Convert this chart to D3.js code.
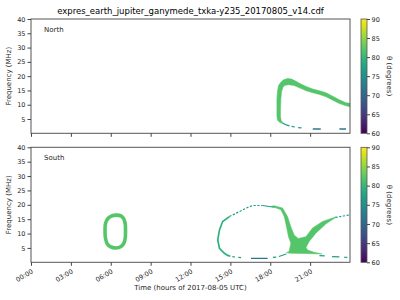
<!DOCTYPE html>
<html><head><meta charset="utf-8">
<script src="https://cdn.jsdelivr.net/npm/d3@7"></script>
<style>body{margin:0;background:#fff} svg{display:block;font-family:"DejaVu Sans",sans-serif}</style>
</head><body><svg id="c" width="400" height="300"></svg>
<script>
// ---- data ----
const titleText = "expres_earth_jupiter_ganymede_txka-y235_20170805_v14.cdf";
const tickHours = [0,3,6,9,12,15,18,21];
const freqTicks = [5,10,15,20,25,30,35,40];
const thetaTicks = [60,65,70,75,80,85,90];
// theta values (degrees) of the features
const thetaBand = 82, thetaThin = 76.5, thetaDark = 72;
// North: filled band (hours, MHz) outline
const northBand = [[18.95,3.3],[18.7,3.85],[18.55,4.6],[18.5,5.8],[18.5,12.0],[18.55,15.0],[18.63,16.8],[18.8,17.9],[19.0,18.7],[19.3,19.2],[19.6,19.0],[19.9,18.3],[20.2,17.5],[20.7,16.4],[21.2,15.5],[21.7,14.9],[22.2,14.2],[22.7,13.0],[23.2,11.7],[23.7,10.7],[24,10.5],
  [24,9.3],[23.7,9.6],[23.2,10.4],[22.7,11.6],[22.2,12.8],[21.7,13.6],[21.2,14.2],[20.7,14.9],[20.2,15.9],[19.8,16.7],[19.4,17.0],[19.1,16.8],[18.95,16.0],[18.85,14.5],[18.8,12.0],[18.77,8.0],[18.77,6.0],[18.82,4.5],[18.95,3.8]];
const northThin = [[[18.95,3.5],[19.2,2.95],[19.45,2.6]],[[19.6,2.4],[19.85,2.2]],[[20.1,2.0],[20.35,1.9]]];
const northDark = [[[21.2,1.5],[21.8,1.5]],[[23.2,1.5],[23.7,1.5]]];
// South
const southOval = [[6.45,16.4],[6.79,16.05],[6.98,15.11],[7.09,13.37],[7.11,10.93],[7.09,8.45],[6.98,6.56],[6.75,5.41],[6.38,4.99],[6.0,5.34],[5.74,6.39],[5.6,8.45],[5.57,10.93],[5.6,13.37],[5.74,14.94],[6.04,16.05]];
const southV = [[18.08,19.5],[18.8,18.3],[19.05,15.9],[19.22,12.4],[19.37,8.9],[19.55,6.6],[19.45,4.5],[19.4,3.7],[19.2,3.3],[19.5,3.15],[20.5,3.05],[21.9,2.9],[21.3,3.5],[20.8,4.3],[20.7,5.2],[20.93,7.2],[21.43,10.1],[22.18,13.3],[22.6,14.6],[22.9,15.5],[22.95,15.8],[22.68,15.4],[21.93,14.2],[21.18,11.9],[20.68,8.9],[20.1,8.3],[19.8,9.5],[19.55,12.4],[19.3,15.9],[18.93,18.85],[18.3,19.7]];
const southLoopSide = [[15.0,2.1],[14.8,2.4],[14.55,3.14],[14.18,4.89],[14.05,7.78],[14.18,11.27],[14.42,14.17],[14.93,15.91]];
const southThin = [
  [[17.42,19.75],[17.93,19.4],[18.3,19.15]],
  [[15.15,1.95],[15.35,1.85]],[[15.6,1.7],[15.8,1.6]],
  [[18.2,1.7],[18.45,1.8]],[[18.65,2.0],[19.2,2.9]],
  [[21.7,2.35],[22.1,2.25]],[[22.65,2.0],[23.2,1.9]],[[23.55,1.75],[23.8,1.7]]
];
const southDotted = [
  [[14.93,15.91],[15.68,17.66],[16.18,18.85],[16.67,19.75],[17.42,19.75]],
  [[22.9,15.6],[23.5,16.1],[24,16.5]]
];
const southDark = [[[16.55,1.4],[17.8,1.4]]];

// ---- layout ----
const svg = d3.select("#c");
const X0 = 31, X1 = 350;
const panels = [
  {name:"North", y0:19, y1:133.3, fills:[northBand], ovals:[], side:[], thin:northThin, dotted:[], dark:northDark, showX:false},
  {name:"South", y0:147.3, y1:262.3, fills:[southV], ovals:[southOval], side:[southLoopSide], thin:southThin, dotted:southDotted, dark:southDark, showX:true}
];
const t0 = Date.UTC(2017,7,5);
const toDate = h => new Date(t0 + h*3600e3);
const x = d3.scaleUtc().domain([toDate(0), toDate(24)]).range([X0, X1]);
const color = d3.scaleSequential(d3.interpolateViridis).domain([60,90]);
const txtCol = "#262626";

svg.append("text").attr("x",190.5).attr("y",14).attr("text-anchor","middle")
  .attr("font-size",8.5).attr("fill","#000").text(titleText);

const defs = svg.append("defs");
const grad = defs.append("linearGradient").attr("id","vir").attr("x1",0).attr("x2",0).attr("y1",1).attr("y2",0);
d3.range(0,1.0001,0.05).forEach(s => grad.append("stop").attr("offset",s).attr("stop-color",d3.interpolateViridis(s)));

panels.forEach((p,i) => {
  const y = d3.scaleLinear().domain([0,40]).range([p.y1, p.y0]);
  const g = svg.append("g");
  defs.append("clipPath").attr("id","clip"+i).append("rect")
    .attr("x",X0).attr("y",p.y0).attr("width",X1-X0).attr("height",p.y1-p.y0);
  const plot = g.append("g").attr("clip-path",`url(#clip${i})`);
  const line = d3.line().x(d => x(toDate(d[0]))).y(d => y(d[1]));
  p.fills.forEach(poly => plot.append("path").attr("d", line.curve(d3.curveLinearClosed)(poly))
    .attr("fill", color(thetaBand)).attr("stroke", color(thetaBand)).attr("stroke-width",0.5));
  p.ovals.forEach(poly => plot.append("path").attr("d", line.curve(d3.curveCatmullRomClosed)(poly))
    .attr("fill","none").attr("stroke", color(thetaBand)).attr("stroke-width",3.6));
  const ln = d3.line().x(d => x(toDate(d[0]))).y(d => y(d[1])).curve(d3.curveLinear);
  p.side.forEach(seg => plot.append("path").attr("d", ln(seg))
    .attr("fill","none").attr("stroke", color((thetaThin+thetaBand)/2)).attr("stroke-width",1.7));
  p.thin.forEach(seg => plot.append("path").attr("d", ln(seg))
    .attr("fill","none").attr("stroke", color(thetaThin)).attr("stroke-width",1.2));
  p.dotted.forEach(seg => plot.append("path").attr("d", ln(seg))
    .attr("fill","none").attr("stroke", color(thetaThin)).attr("stroke-width",1.2).attr("stroke-dasharray","2.2,1.6"));
  p.dark.forEach(seg => plot.append("path").attr("d", ln(seg))
    .attr("fill","none").attr("stroke", color(thetaDark)).attr("stroke-width",1.3));

  // frame
  g.append("rect").attr("x",X0).attr("y",p.y0).attr("width",X1-X0).attr("height",p.y1-p.y0)
    .attr("fill","none").attr("stroke","#555").attr("stroke-width",1);

  // y axis
  const ya = g.append("g").attr("transform",`translate(${X0},0)`)
    .call(d3.axisLeft(y).tickValues(freqTicks).tickSize(3.5).tickPadding(2));
  ya.select(".domain").remove();
  ya.selectAll("line").attr("stroke","#444");
  ya.selectAll("text").attr("font-size",6.5).attr("fill",txtCol).attr("font-family","DejaVu Sans");
  g.append("text").attr("transform",`translate(11,${(p.y0+p.y1)/2}) rotate(-90)`)
    .attr("text-anchor","middle").attr("font-size",7).attr("fill",txtCol).text("Frequency (MHz)");

  // x axis
  const xa = g.append("g").attr("transform",`translate(0,${p.y1})`)
    .call(d3.axisBottom(x).tickValues(tickHours.map(toDate)).tickSize(3.5)
      .tickFormat(p.showX ? d3.utcFormat("%H:%M") : () => ""));
  xa.select(".domain").remove();
  xa.selectAll("line").attr("stroke","#444");
  xa.selectAll("text").attr("font-size",6.5).attr("fill",txtCol).attr("font-family","DejaVu Sans")
    .attr("x",0).attr("y",0).attr("dy","0.35em").attr("text-anchor","end")
    .attr("transform","translate(1,8.5) rotate(-30)");

  g.append("text").attr("x",44).attr("y",p.y0+13).attr("font-size",7).attr("fill",txtCol).text(p.name);

  // colorbar
  const CX = 361, CW = 6;
  g.append("rect").attr("x",CX).attr("y",p.y0).attr("width",CW).attr("height",p.y1-p.y0)
    .attr("fill","url(#vir)").attr("stroke","#555").attr("stroke-width",0.8);
  const cy = d3.scaleLinear().domain([60,90]).range([p.y1,p.y0]);
  const ca = g.append("g").attr("transform",`translate(${CX+CW},0)`)
    .call(d3.axisRight(cy).tickValues(thetaTicks).tickSize(3).tickPadding(1.5));
  ca.select(".domain").remove();
  ca.selectAll("line").attr("stroke","#444");
  ca.selectAll("text").attr("font-size",6.5).attr("fill",txtCol).attr("font-family","DejaVu Sans");
  g.append("text").attr("transform",`translate(387,${(p.y0+p.y1)/2}) rotate(90)`)
    .attr("text-anchor","middle").attr("font-size",7).attr("fill",txtCol).text("θ (degrees)");
});

svg.append("text").attr("x",190.5).attr("y",290).attr("text-anchor","middle")
  .attr("font-size",7).attr("fill",txtCol).text("Time (hours of 2017-08-05 UTC)");
</script></body></html>
